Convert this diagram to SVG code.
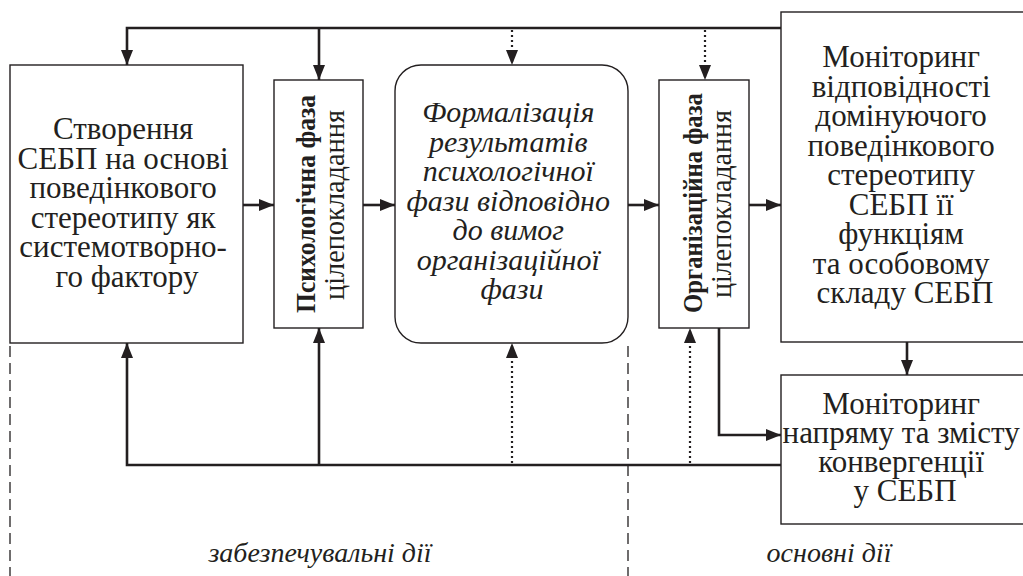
<svg xmlns="http://www.w3.org/2000/svg" width="1023" height="576" viewBox="0 0 1023 576" font-family="Liberation Serif, Times New Roman, serif">
<style>
text{fill:#231f20;text-anchor:middle}
.t{font-size:31px}
.it{font-style:italic;font-size:30px}
.lab{font-style:italic;font-size:28px}
.vb{font-weight:bold;font-size:28px}
.vr{font-size:29px}
.box{fill:#fff;stroke:#231f20;stroke-width:1.4}
.c{fill:none;stroke:#231f20;stroke-width:2.6}
.d{fill:none;stroke:#231f20;stroke-width:2.2;stroke-dasharray:2 3}
.dash{fill:none;stroke:#231f20;stroke-width:1.3;stroke-dasharray:11 6}
</style>
<defs>
<marker id="ah" markerWidth="16" markerHeight="12" refX="15" refY="6" orient="auto" markerUnits="userSpaceOnUse">
<path d="M0,0 L15,6 L0,12 z" fill="#231f20"/>
</marker>
</defs>
<rect width="1023" height="576" fill="#fff"/>

<g id="dividers">
<line class="dash" x1="10" y1="346" x2="10" y2="576"/>
<line class="dash" x1="628" y1="346" x2="628" y2="576"/>
</g>

<g id="connectors">
<path class="c" d="M781,28 H127 V65" marker-end="url(#ah)"/>
<path class="c" d="M319,28 V80" marker-end="url(#ah)"/>
<path class="d" d="M512,30 V65" marker-end="url(#ah)"/>
<path class="d" d="M705,30 V80" marker-end="url(#ah)"/>
<path class="c" d="M243,205 H274" marker-end="url(#ah)"/>
<path class="c" d="M363,205 H395" marker-end="url(#ah)"/>
<path class="c" d="M628,205 H659" marker-end="url(#ah)"/>
<path class="c" d="M749,205 H781" marker-end="url(#ah)"/>
<path class="c" d="M781,465 H127 V343" marker-end="url(#ah)"/>
<path class="c" d="M319,465 V328" marker-end="url(#ah)"/>
<path class="d" d="M512,463 V343" marker-end="url(#ah)"/>
<path class="d" d="M690,463 V328" marker-end="url(#ah)"/>
<path class="c" d="M719,328 V435 H781" marker-end="url(#ah)"/>
<path class="c" d="M907,342 V375" marker-end="url(#ah)"/>
</g>

<g id="n1">
<rect class="box" x="10" y="65" width="233" height="278"/>
<text class="t" font-family="Liberation Serif, serif">
<tspan x="127" y="139">Створення</tspan>
<tspan x="127" y="168.5">СЕБП на основі</tspan>
<tspan x="127" y="198">поведінкового</tspan>
<tspan x="127" y="227.5">стереотипу як</tspan>
<tspan x="127" y="257">системотворно-</tspan>
<tspan x="127" y="286.5">го фактору</tspan>
</text>
</g>

<g id="n2">
<rect class="box" x="274" y="80" width="89" height="248"/>
<text class="vb" font-family="Liberation Serif, serif" textLength="218" lengthAdjust="spacingAndGlyphs" transform="translate(315,204) rotate(-90)" x="0" y="0">Психологічна фаза</text>
<text class="vr" font-family="Liberation Serif, serif" textLength="190" lengthAdjust="spacingAndGlyphs" transform="translate(344,205) rotate(-90)" x="0" y="0">цілепокладання</text>
</g>

<g id="n3">
<rect class="box" x="395" y="65" width="233" height="278" rx="26" ry="26"/>
<text class="it" font-family="Liberation Serif, serif">
<tspan x="512" y="122">Формалізація</tspan>
<tspan x="512" y="151.5">результатів</tspan>
<tspan x="512" y="181">психологічної</tspan>
<tspan x="512" y="210.5">фази відповідно</tspan>
<tspan x="512" y="240">до вимог</tspan>
<tspan x="512" y="269.5">організаційної</tspan>
<tspan x="512" y="299">фази</tspan>
</text>
</g>

<g id="n4">
<rect class="box" x="659" y="80" width="90" height="248"/>
<text class="vb" font-family="Liberation Serif, serif" textLength="220" lengthAdjust="spacingAndGlyphs" transform="translate(702,203) rotate(-90)" x="0" y="0">Організаційна фаза</text>
<text class="vr" font-family="Liberation Serif, serif" textLength="188" lengthAdjust="spacingAndGlyphs" transform="translate(731,204) rotate(-90)" x="0" y="0">цілепокладання</text>
</g>

<g id="n5">
<rect class="box" x="781" y="12" width="250" height="330"/>
<text class="t" font-family="Liberation Serif, serif">
<tspan x="905" y="67">Моніторинг</tspan>
<tspan x="905" y="96.5">відповідності</tspan>
<tspan x="905" y="126">домінуючого</tspan>
<tspan x="905" y="155.5">поведінкового</tspan>
<tspan x="905" y="185">стереотипу</tspan>
<tspan x="905" y="214.5">СЕБП її</tspan>
<tspan x="905" y="244">функціям</tspan>
<tspan x="905" y="273.5">та особовому</tspan>
<tspan x="905" y="303">складу СЕБП</tspan>
</text>
</g>

<g id="n6">
<rect class="box" x="781" y="375" width="250" height="149"/>
<text class="t" font-family="Liberation Serif, serif">
<tspan x="905" y="414">Моніторинг</tspan>
<tspan x="905" y="443">напряму та змісту</tspan>
<tspan x="905" y="472">конвергенції</tspan>
<tspan x="905" y="501">у СЕБП</tspan>
</text>
</g>

<g id="labels">
<text class="lab" font-family="Liberation Serif, serif" x="320" y="562">забезпечувальні дії</text>
<text class="lab" font-family="Liberation Serif, serif" x="829" y="562">основні дії</text>
</g>
</svg>
